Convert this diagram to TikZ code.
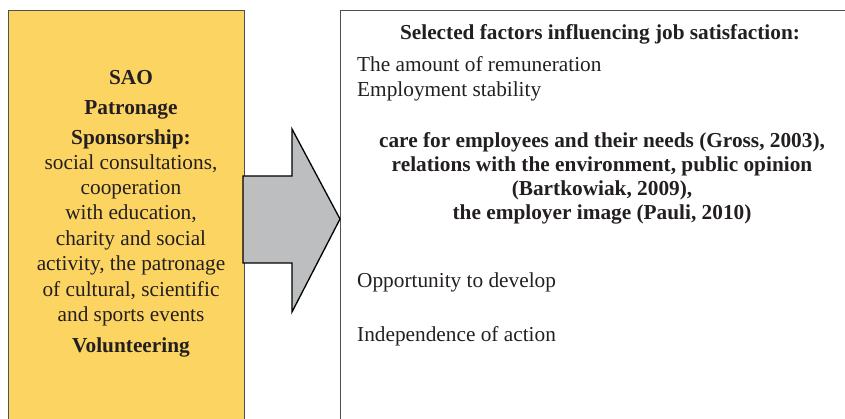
\documentclass[tikz,border=0pt]{standalone}
\usepackage{fontspec}
\setmainfont{Liberation Serif}
\definecolor{boxyellow}{HTML}{FCD462}
\definecolor{arrowgray}{HTML}{BCBEC0}
\definecolor{txt}{HTML}{231F20}
\definecolor{frame}{HTML}{505050}
\begin{document}
\begin{tikzpicture}[x=1pt,y=-1pt,
  ln/.style={anchor=base, inner sep=0pt, text=txt, font=\fontsize{21.3}{25}\selectfont},
  bl/.style={ln, font=\fontsize{21.3}{25}\selectfont\bfseries},
  lw/.style={ln, anchor=base west},
  panel/.style={inner sep=0pt, anchor=north west, line width=0.9pt},
  blockarrow/.style={fill=arrowgray, draw=black, line width=1.3pt, line join=miter}]
\useasboundingbox (0,0) rectangle (845,419);
% left panel
\node[panel, fill=boxyellow, draw=frame, minimum width=236pt, minimum height=430pt] (left) at (8,10) {};
% right panel (only left and top borders visible)
\coordinate (rtop) at (340,10);
\draw[frame, line width=0.9pt] (860,10) -- (rtop) -- (340,430);
% arrow
\draw[blockarrow] (243,176) -- (292,176) -- (292,129) -- (340,219) -- (292,312) -- (292,263) -- (243,263) -- cycle;
% left texts
\begin{scope}[yshift=-1.5pt]
\node[bl] (l1) at (131,83) {SAO};
\node[bl] (l2) at (131,113) {Patronage};
\node[bl] (l3) at (131,143) {Sponsorship:};
\node[ln] (l4) at (131,168.3) {social consultations,};
\node[ln] (l5) at (131,193.5) {cooperation};
\node[ln] (l6) at (131,218.5) {with education,};
\node[ln] (l7) at (131,244) {charity and social};
\node[ln] (l8) at (131,269.3) {activity, the patronage};
\node[ln] (l9) at (131,295) {of cultural, scientific};
\node[ln] (l10) at (131,320) {and sports events};
\node[bl] (l11) at (131,351) {Volunteering};
% right texts
\node[bl] (r1) at (600,38.3) {Selected factors influencing job satisfaction:};
\node[lw] (r2) at (357,70) {The amount of remuneration};
\node[lw] (r3) at (357,95) {Employment stability};
\node[bl] (r4) at (602,146) {care for employees and their needs (Gross, 2003),};
\node[bl] (r5) at (602,170) {relations with the environment, public opinion};
\node[bl] (r6) at (602,194) {(Bartkowiak, 2009),};
\node[bl] (r7) at (602,218.5) {the employer image (Pauli, 2010)};
\node[lw] (r8) at (357,286) {Opportunity to develop};
\node[lw] (r9) at (357,340) {Independence of action};
\end{scope}
\end{tikzpicture}
\end{document}
